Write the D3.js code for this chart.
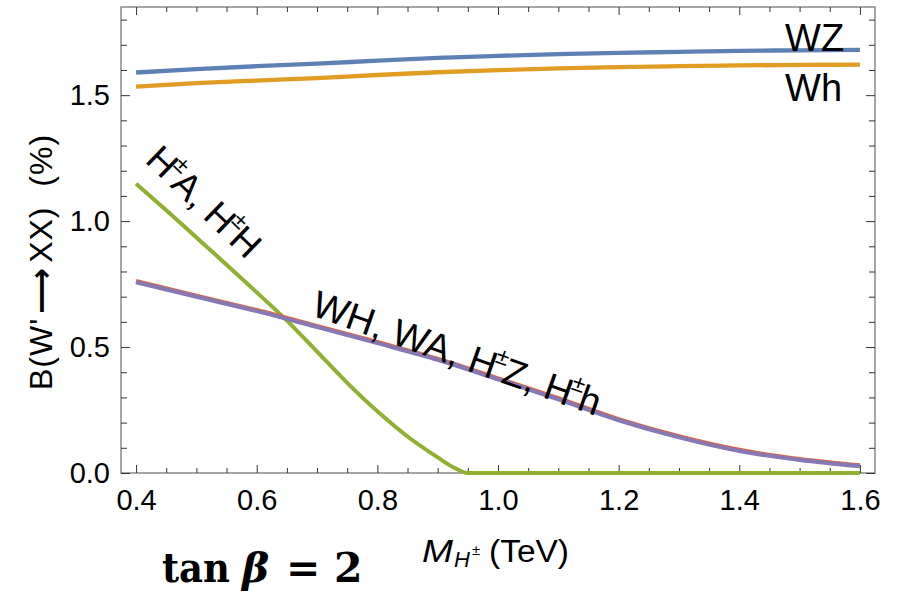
<!DOCTYPE html>
<html>
<head>
<meta charset="utf-8">
<script src="https://d3js.org/d3.v7.min.js"></script>
<style>
  body { margin: 0; background: #fff; }
  svg { font-family: "Liberation Sans", Arial, sans-serif; }
  .axis text { font-size: 29px; fill: #000; font-family: "Liberation Sans", Arial, sans-serif; }
  .axis .domain { stroke: none; }
  .axis line { stroke: #333; stroke-width: 1; }
</style>
</head>
<body></body>
<script>
  // W' branching ratios (%) versus charged Higgs mass (TeV), tan(beta) = 2
  var mass = [0.4, 0.5, 0.6, 0.7, 0.8, 0.9, 1.0, 1.1, 1.2, 1.3, 1.4, 1.5, 1.6];
  var bWZ = [1.590, 1.603, 1.615, 1.625, 1.637, 1.648, 1.656, 1.663, 1.668, 1.672, 1.676, 1.678, 1.680];
  var bWh = [1.534, 1.548, 1.558, 1.568, 1.580, 1.591, 1.599, 1.606, 1.611, 1.615, 1.618, 1.620, 1.621];
  var bWA = [0.762, 0.704, 0.647, 0.584, 0.520, 0.454, 0.376, 0.297, 0.214, 0.146, 0.092, 0.056, 0.031];
  var bWH = [0.758, 0.700, 0.643, 0.580, 0.516, 0.450, 0.372, 0.293, 0.210, 0.142, 0.088, 0.052, 0.027];

  var massHA = [0.4, 0.45, 0.5, 0.55, 0.6, 0.65, 0.7, 0.75, 0.8, 0.85, 0.9, 0.925, 0.95, 1.0, 1.2, 1.4, 1.6];
  var bHA = [1.148, 1.043, 0.935, 0.827, 0.717, 0.605, 0.482, 0.358, 0.245, 0.145, 0.062, 0.024, 0.0, 0, 0, 0, 0];

  var xTicks = [0.4, 0.6, 0.8, 1.0, 1.2, 1.4, 1.6];
  var yTicks = [0.0, 0.5, 1.0, 1.5];

  var svg = d3.select("body")
    .append("svg")
    .attr("width", 899)
    .attr("height", 592);

  var pL = 121, pR = 875, pT = 7, pB = 473;

  var x = d3.scaleLinear().domain([0.375, 1.625]).range([pL, pR]);
  var y = d3.scaleLinear().domain([0, 1.85]).range([pB, pT]);

  var xMinor = d3.range(0.4, 1.6001, 0.05).filter(function(v){ return Math.abs(v * 5 - Math.round(v * 5)) > 1e-6; });
  var yMinor = d3.range(0, 1.8001, 0.1).filter(function(v){ return Math.abs(v * 2 - Math.round(v * 2)) > 1e-6; });

  // frame
  svg.append("rect")
    .attr("x", pL).attr("y", pT)
    .attr("width", pR - pL).attr("height", pB - pT)
    .attr("fill", "none")
    .attr("stroke", "#777")
    .attr("stroke-width", 1.3);

  // bottom axis
  svg.append("g").attr("class", "axis")
    .attr("transform", "translate(0," + pB + ")")
    .call(d3.axisBottom(x).tickValues(xTicks).tickSize(-8).tickPadding(16).tickFormat(d3.format(".1f")));
  svg.append("g").attr("class", "axis")
    .attr("transform", "translate(0," + pB + ")")
    .call(d3.axisBottom(x).tickValues(xMinor).tickSize(-5).tickFormat(""));
  // top axis
  svg.append("g").attr("class", "axis")
    .attr("transform", "translate(0," + pT + ")")
    .call(d3.axisTop(x).tickValues(xTicks).tickSize(-8).tickFormat(""));
  svg.append("g").attr("class", "axis")
    .attr("transform", "translate(0," + pT + ")")
    .call(d3.axisTop(x).tickValues(xMinor).tickSize(-5).tickFormat(""));
  // left axis
  svg.append("g").attr("class", "axis")
    .attr("transform", "translate(" + pL + ",0)")
    .call(d3.axisLeft(y).tickValues(yTicks).tickSize(-9).tickPadding(11).tickFormat(d3.format(".1f")));
  svg.append("g").attr("class", "axis")
    .attr("transform", "translate(" + pL + ",0)")
    .call(d3.axisLeft(y).tickValues(yMinor).tickSize(-6).tickFormat(""));
  // right axis
  svg.append("g").attr("class", "axis")
    .attr("transform", "translate(" + pR + ",0)")
    .call(d3.axisRight(y).tickValues(yTicks).tickSize(-9).tickFormat(""));
  svg.append("g").attr("class", "axis")
    .attr("transform", "translate(" + pR + ",0)")
    .call(d3.axisRight(y).tickValues(yMinor).tickSize(-6).tickFormat(""));

  // curves
  var line = d3.line()
    .x(function(d){ return x(d[0]); })
    .y(function(d){ return y(d[1]); })
    .curve(d3.curveMonotoneX);

  var series = [
    [d3.zip(mass, bWZ), "#5e81b5", 4.3],
    [d3.zip(mass, bWh), "#e19c24", 4.3],
    [d3.zip(massHA, bHA), "#8fb032", 4],
    [d3.zip(mass, bWA), "#eb6235", 4],
    [d3.zip(mass, bWH), "#8778b3", 4.3]
  ];

  svg.selectAll("path.curve")
    .data(series)
    .enter()
    .append("path")
    .attr("class", "curve")
    .attr("fill", "none")
    .attr("stroke", function(d){ return d[1]; })
    .attr("stroke-width", function(d){ return d[2]; })
    .attr("d", function(d){ return line(d[0]); });

  // curve labels
  svg.append("text")
    .attr("x", x(1.476)).attr("y", y(1.677))
    .attr("font-size", 38)
    .text("WZ");
  svg.append("text")
    .attr("x", x(1.476)).attr("y", y(1.478))
    .attr("font-size", 38)
    .text("Wh");

  // text with H^± superscripts: "±" entries are raised and tucked in
  function hpm(t, parts, s) {
    var raised = false;
    parts.forEach(function(p){
      var ts = t.append("tspan");
      if (p === "±") {
        ts.attr("font-size", s * 0.62).attr("dx", -s * 0.08).attr("dy", -s * 0.45).text("±");
        raised = true;
      } else {
        if (raised) ts.attr("dx", -s * 0.03).attr("dy", s * 0.45);
        raised = false;
        ts.text(p);
      }
    });
  }

  var tA = svg.append("text")
    .attr("font-size", 37)
    .attr("xml:space", "preserve")
    .attr("transform", "translate(" + x(0.413) + "," + y(1.237) + ") rotate(44)");
  hpm(tA, ["H", "±", "A, H", "±", "H"], 37);

  var tW = svg.append("text")
    .attr("font-size", 38)
    .attr("xml:space", "preserve")
    .attr("transform", "translate(" + x(0.688) + "," + y(0.628) + ") rotate(19.5)");
  hpm(tW, ["WH, WA, H", "±", "Z, H", "±", "h"], 38);

  // axis titles
  var yl = svg.append("text")
    .attr("transform", "translate(52,262) rotate(-90)")
    .attr("text-anchor", "middle")
    .attr("font-size", 32)
    .attr("letter-spacing", 1)
    .attr("xml:space", "preserve");
  yl.append("tspan").text("B(W'");
  yl.append("tspan").attr("dx", 4).attr("font-family", "'DejaVu Sans', sans-serif").attr("font-weight", "bold").text("\u27f6");
  yl.append("tspan").attr("dx", 4).text("XX)  (%)");

  var xl = svg.append("text")
    .attr("y", 562)
    .attr("font-size", 31);
  xl.append("tspan").attr("x", 422).attr("font-style", "italic").attr("textLength", 31).attr("lengthAdjust", "spacingAndGlyphs").text("M");
  xl.append("tspan").attr("x", 454).attr("font-style", "italic").attr("font-size", 22).attr("dy", 5).text("H");
  xl.append("tspan").attr("x", 472).attr("font-style", "italic").attr("font-size", 15).attr("dy", -12).text("±");
  xl.append("tspan").attr("x", 489).attr("dy", 7).attr("textLength", 80).attr("lengthAdjust", "spacingAndGlyphs").text("(TeV)");

  var tb = svg.append("text")
    .attr("y", 582)
    .attr("font-family", "'DejaVu Serif', serif")
    .attr("font-weight", "bold")
    .attr("font-size", 41);
  tb.append("tspan").attr("x", 162).attr("textLength", 68).attr("lengthAdjust", "spacingAndGlyphs").text("tan");
  tb.append("tspan").attr("x", 242).attr("font-style", "italic").text("\u03b2");
  tb.append("tspan").attr("x", 286).text("=");
  tb.append("tspan").attr("x", 334).text("2");
</script>
</html>
